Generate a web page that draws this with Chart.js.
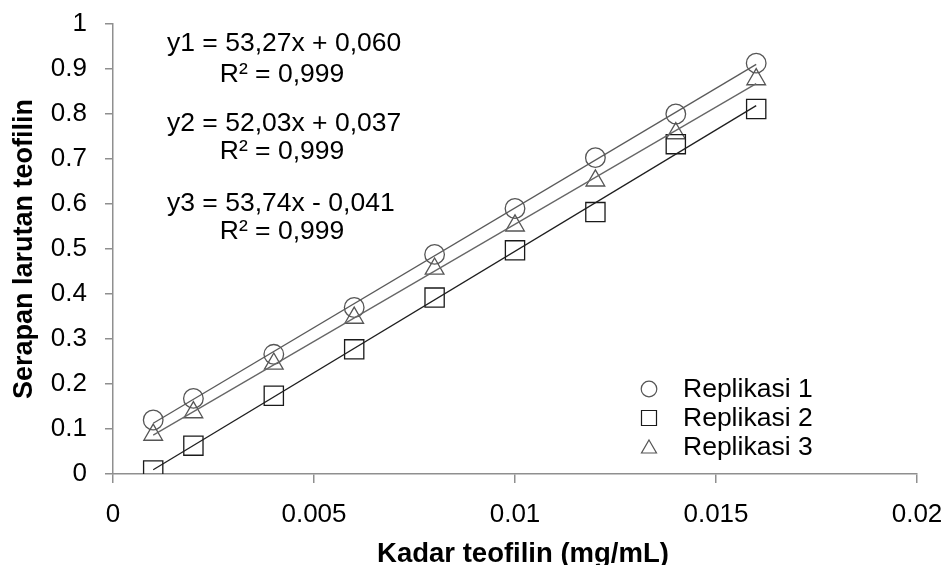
<!DOCTYPE html>
<html><head><meta charset="utf-8">
<script src="https://cdn.jsdelivr.net/npm/chart.js@4"></script>
<style>html,body{margin:0;padding:0;background:#fff}</style>
</head><body>
<canvas id="c" width="946" height="565"></canvas>
<script>
// ---- data ----
const xValues = [0.001, 0.002, 0.004, 0.006, 0.008, 0.010, 0.012, 0.014, 0.016];
const rep1 = [0.120, 0.168, 0.266, 0.370, 0.488, 0.590, 0.703, 0.800, 0.913];
const rep2 = [0.008, 0.063, 0.174, 0.277, 0.392, 0.497, 0.582, 0.733, 0.811];
const rep3 = [0.087, 0.137, 0.245, 0.347, 0.456, 0.552, 0.652, 0.757, 0.877];
const seriesNames = ['Replikasi 1', 'Replikasi 2', 'Replikasi 3'];
const xTickLabels = ['0', '0.005', '0.01', '0.015', '0.02'];
const yTickLabels = ['0', '0.1', '0.2', '0.3', '0.4', '0.5', '0.6', '0.7', '0.8', '0.9', '1'];
const equationLines = [
  ['y1 = 53,27x + 0,060', 'R\u00b2 = 0,999'],
  ['y2 = 52,03x + 0,037', 'R\u00b2 = 0,999'],
  ['y3 = 53,74x - 0,041', 'R\u00b2 = 0,999']
];
const xTitle = 'Kadar teofilin (mg/mL)';
const yTitle = 'Serapan larutan teofilin';

const FONT = "'Liberation Sans', Arial, sans-serif";

// least-squares trendline (as Excel draws it) from the data arrays
function trend(xs, ys) {
  const n = xs.length;
  const mx = xs.reduce((a, b) => a + b, 0) / n;
  const my = ys.reduce((a, b) => a + b, 0) / n;
  let sxy = 0, sxx = 0;
  for (let i = 0; i < n; i++) { sxy += (xs[i] - mx) * (ys[i] - my); sxx += (xs[i] - mx) ** 2; }
  const m = sxy / sxx, b = my - m * mx;
  return [{x: xs[0], y: m * xs[0] + b}, {x: xs[n - 1], y: m * xs[n - 1] + b}];
}
const pts = ys => xValues.map((x, i) => ({x, y: ys[i]}));

const styles = [
  {pointStyle: 'circle', radius: 9.8, color: '#555555', line: '#5a5a5a'},
  {pointStyle: 'rect', radius: 13.6, color: '#1a1a1a', line: '#1e1e1e'},
  {pointStyle: 'triangle', radius: 10.8, color: '#555555', line: '#666666'}
];
const seriesData = [rep1, rep2, rep3];

const datasets = [];
seriesData.forEach((ys, i) => {
  datasets.push({
    label: seriesNames[i], data: pts(ys), showLine: false,
    pointStyle: styles[i].pointStyle, pointRadius: styles[i].radius,
    borderColor: styles[i].color, backgroundColor: 'rgba(0,0,0,0)', borderWidth: 1.3,
    pointHoverRadius: styles[i].radius, order: 2
  });
});
seriesData.forEach((ys, i) => {
  datasets.push({
    label: 'trend ' + (i + 1), data: trend(xValues, ys), showLine: true,
    pointRadius: 0, borderColor: styles[i].line, borderWidth: 1.3, fill: false, order: 1
  });
});

const overlay = {
  id: 'overlay',
  afterDraw(chart) {
    const ctx = chart.ctx;
    ctx.save();
    ctx.fillStyle = '#000';
    ctx.font = '26.5px ' + FONT;
    ctx.textBaseline = 'middle';
    const eqY = [[44, 75], [124, 152], [204, 232]];
    equationLines.forEach((lines, i) => {
      ctx.textAlign = 'left';
      ctx.fillText(lines[0], 167, eqY[i][0]);
      ctx.textAlign = 'center';
      ctx.fillText(lines[1], 282, eqY[i][1]);
    });
    // legend
    const rows = [389, 418, 447];
    const mx = 649;
    ctx.lineWidth = 1.2;
    rows.forEach((ry, i) => {
      ctx.strokeStyle = styles[i].color;
      ctx.beginPath();
      if (i === 0) { ctx.arc(mx, ry, 7.8, 0, Math.PI * 2); }
      else if (i === 1) { ctx.rect(mx - 7.5, ry - 7.5, 15, 15); }
      else { ctx.moveTo(mx, ry - 7); ctx.lineTo(mx + 7.5, ry + 6); ctx.lineTo(mx - 7.5, ry + 6); ctx.closePath(); }
      ctx.stroke();
      ctx.textAlign = 'left';
      ctx.fillStyle = '#000';
      ctx.fillText(seriesNames[i], 683, ry + 1);
    });
    // x-axis title
    ctx.font = 'bold 27.5px ' + FONT;
    ctx.textAlign = 'center';
    ctx.textBaseline = 'alphabetic';
    ctx.fillText(xTitle, 523, 562);
    ctx.restore();
  }
};

const axisGray = '#8f8f8f';
new Chart(document.getElementById('c'), {
  type: 'scatter',
  data: {datasets},
  options: {
    responsive: false, animation: false,
    layout: {padding: {top: 24, right: 29, left: 0, bottom: 0}},
    plugins: {legend: {display: false}, tooltip: {enabled: false}},
    scales: {
      x: {
        type: 'linear', min: 0, max: 0.02,
        ticks: {stepSize: 0.005, autoSkip: false, maxRotation: 0, padding: 16, color: '#000',
          font: {family: FONT, size: 26},
          callback: v => xTickLabels[Math.round(v / 0.005)] ?? ''},
        grid: {drawOnChartArea: false, drawTicks: true, tickLength: 9, color: axisGray, lineWidth: 1.5},
        border: {color: axisGray, width: 1.5},
        title: {display: false, text: xTitle},
        afterFit(s) { s.height = 91; s.paddingLeft = 0; s.paddingRight = 0; }
      },
      y: {
        type: 'linear', min: 0, max: 1,
        ticks: {stepSize: 0.1, autoSkip: false, padding: 18, color: '#000',
          font: {family: FONT, size: 26},
          callback: v => yTickLabels[Math.round(v * 10)] ?? ''},
        grid: {drawOnChartArea: false, drawTicks: true, tickLength: 8, color: axisGray, lineWidth: 1.5},
        border: {color: axisGray, width: 1.5},
        title: {display: true, text: yTitle, color: '#000', padding: {top: 8, bottom: 0},
          font: {family: FONT, size: 27, weight: 'bold', lineHeight: 1.2}},
        afterFit(s) { s.width = 113; s.paddingTop = 0; s.paddingBottom = 0; }
      }
    }
  },
  plugins: [overlay]
});
</script>
</body></html>
